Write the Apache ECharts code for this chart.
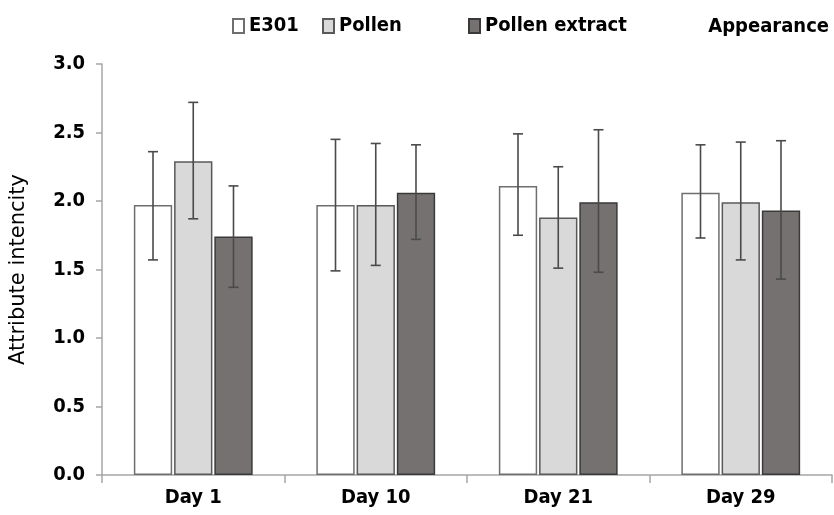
<!DOCTYPE html>
<html><head><meta charset="utf-8">
<script src="https://cdn.jsdelivr.net/npm/echarts@6/dist/echarts.min.js"></script>
<style>html,body{margin:0;padding:0;background:#fff}#c{width:834px;height:515px}</style>
</head><body><div id="c"></div>
<script>
const categories = ['Day 1', 'Day 10', 'Day 21', 'Day 29'];
const seriesNames = ['E301', 'Pollen', 'Pollen extract'];
const e301 = [1.97, 1.97, 2.11, 2.06];
const pollen = [2.29, 1.97, 1.88, 1.99];
const extract = [1.74, 2.06, 1.99, 1.93];
const e301Err = [[1.57, 2.36], [1.49, 2.45], [1.75, 2.49], [1.73, 2.41]];
const pollenErr = [[1.87, 2.72], [1.53, 2.42], [1.51, 2.25], [1.57, 2.43]];
const extractErr = [[1.37, 2.11], [1.72, 2.41], [1.48, 2.52], [1.43, 2.44]];
const yTicks = [0, 0.5, 1.0, 1.5, 2.0, 2.5, 3.0];

const FONT = '"DejaVu Sans Condensed", "DejaVu Sans", sans-serif';
const NAME_FONT = '"DejaVu Sans", sans-serif';
const fills = ['#ffffff', '#d9d9d9', '#767171'];
const borders = ['#6f6f6f', '#595959', '#3a3a3a'];
const BAR_FRAC = 0.21, GAP_FRAC = 0.05;
const legendLeft = [232, 322, 468];

function errSeries(idx, errs) {
  return {
    type: 'custom',
    name: seriesNames[idx] + ' err',
    z: 5,
    data: errs.map((e, i) => [i, e[0], e[1]]),
    renderItem: function (params, api) {
      const catW = api.size([1, 0])[0];
      const bw = catW * BAR_FRAC;
      const off = (idx - 1) * bw * (1 + GAP_FRAC);
      const lo = api.coord([api.value(0), api.value(1)]);
      const hi = api.coord([api.value(0), api.value(2)]);
      const x = lo[0] + off;
      const cap = 5;
      const st = { stroke: '#4a4a4a', lineWidth: 1.6 };
      return {
        type: 'group',
        children: [
          { type: 'line', shape: { x1: x, y1: lo[1], x2: x, y2: hi[1] }, style: st },
          { type: 'line', shape: { x1: x - cap, y1: lo[1], x2: x + cap, y2: lo[1] }, style: st },
          { type: 'line', shape: { x1: x - cap, y1: hi[1], x2: x + cap, y2: hi[1] }, style: st }
        ]
      };
    }
  };
}

const values = [e301, pollen, extract];
const chart = echarts.init(document.getElementById('c'));
chart.setOption({
  animation: false,
  title: {
    text: 'Appearance', right: 0, top: 12,
    textStyle: { fontFamily: FONT, fontSize: 20, fontWeight: 'bold', color: '#000' }
  },
  legend: seriesNames.map((n, i) => ({
    data: [n], left: legendLeft[i], top: 16, padding: 0,
    itemWidth: 11, itemHeight: 14, icon: 'rect', itemGap: 0,
    textStyle: { fontFamily: FONT, fontSize: 20, fontWeight: 'bold', color: '#000' }
  })),
  grid: { left: 99, right: 2, top: 64, bottom: 40 },
  xAxis: {
    type: 'category', data: categories,
    axisLine: { lineStyle: { color: '#a6a6a6', width: 1.5 } },
    axisTick: { show: true, length: 8, lineStyle: { color: '#a6a6a6', width: 1.5 } },
    axisLabel: { fontFamily: FONT, fontSize: 20, fontWeight: 'bold', color: '#000', margin: 13 }
  },
  yAxis: {
    type: 'value', min: 0, max: 3, interval: 0.5,
    name: 'Attribute intencity', nameLocation: 'middle', nameGap: 73,
    nameTextStyle: { fontFamily: NAME_FONT, fontSize: 21, color: '#000' },
    axisLine: { show: true, lineStyle: { color: '#a6a6a6', width: 1.5 } },
    axisTick: { show: true, length: 6, lineStyle: { color: '#a6a6a6', width: 1.5 } },
    splitLine: { show: false },
    axisLabel: {
      fontFamily: FONT, fontSize: 20, fontWeight: 'bold', color: '#000', margin: 17,
      formatter: v => yTicks.includes(v) ? v.toFixed(1) : ''
    }
  },
  series: values.map((v, i) => ({
    type: 'bar', name: seriesNames[i], data: v,
    barWidth: (BAR_FRAC * 100) + '%', barGap: (GAP_FRAC * 100) + '%',
    itemStyle: { color: fills[i], borderColor: borders[i], borderWidth: 1.5 }
  })).concat([errSeries(0, e301Err), errSeries(1, pollenErr), errSeries(2, extractErr)])
});
</script></body></html>
